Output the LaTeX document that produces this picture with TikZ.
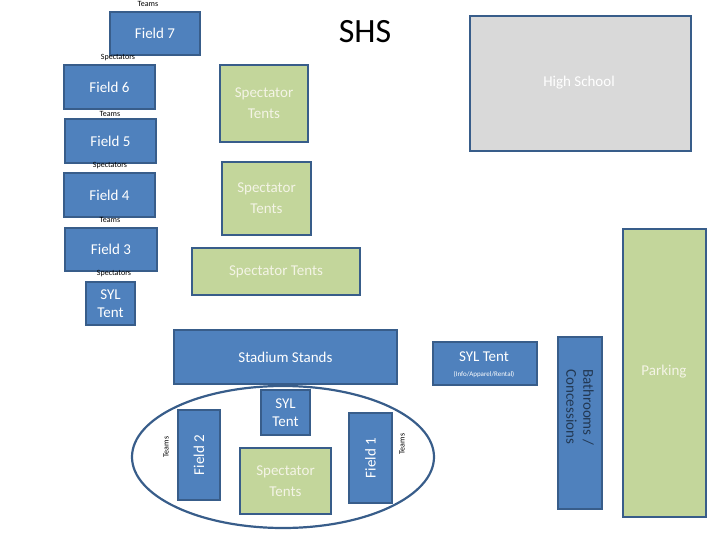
\documentclass[tikz,border=0pt]{standalone}
\usepackage{fontspec}
\setmainfont{Carlito}
\begin{document}
\begin{tikzpicture}[x=1pt,y=-1pt,
  box/.style={draw=bord,line width=2.2pt,inner sep=0pt,align=center},
  blue/.style={box,fill=fblue,text=white,font=\fontsize{15}{18}\selectfont},
  green/.style={box,fill=fgreen,text=tgreen,font=\fontsize{15}{21}\selectfont},
  small/.style={font=\fontsize{8}{9}\selectfont,inner sep=0pt}]
\definecolor{fblue}{HTML}{4F81BD}
\definecolor{bord}{HTML}{385D8A}
\definecolor{fgreen}{HTML}{C3D69B}
\definecolor{tgreen}{HTML}{F4F4E6}
\definecolor{fgray}{HTML}{D9D9D9}
\useasboundingbox (0,0) rectangle (720,540);
\newcommand\bx[6]{\node[#1,minimum width=#4-#2,minimum height=#5-#3] (#6) at ({(#2+#4)/2},{(#3+#5)/2})}
\bx{blue}{110}{12}{200}{55}{f7} {Field 7};
\bx{blue}{64}{65}{155}{109}{f6} {Field 6};
\bx{blue}{65}{119}{156}{163}{f5} {Field 5};
\bx{blue}{64}{173}{155}{217}{f4} {Field 4};
\bx{blue}{65}{228}{157}{271}{f3} {Field 3};
\bx{blue}{86}{282}{135}{325}{syl1} {SYL\\Tent};
\bx{green}{220}{65}{308}{142}{st1} {Spectator\\Tents};
\bx{green}{222}{162}{311}{235}{st2} {Spectator\\Tents};
\bx{green}{192}{248}{360}{295}{st3} {Spectator Tents};
\node[box,fill=fgray,minimum width=221,minimum height=135,text=white,font=\fontsize{15}{18}\selectfont,anchor=north west] (hs) at (469,15) {};
\node[text=white,font=\fontsize{15}{18}\selectfont] (hst) at (579,83) {High School};
\bx{green}{623}{229}{706}{517}{park} {};
\node[text=tgreen,font=\fontsize{15}{18}\selectfont] (pkt) at (664,372) {Parking};
\bx{blue}{558}{337}{602}{509}{bath} {};
\node[rotate=-90,text=bord!60!black,font=\fontsize{15}{17}\selectfont,align=center] (batht) at (580,407) {Bathrooms /\\Concessions};
\bx{blue}{174}{330}{397}{384}{stad} {Stadium Stands};
\bx{blue}{433}{342}{537}{385}{syli} {};
\node[text=white,font=\fontsize{15}{18}\selectfont] (sylit) at (484,357) {SYL Tent};
\node[text=white,font=\fontsize{7}{8}\selectfont] (sylis) at (484,375) {(Info/Apparel/Rental)};
\draw[bord,line width=2.2pt] (283,457) ellipse[x radius=151,y radius=71];
\bx{blue}{178}{410}{220}{500}{f2} {};
\node[rotate=90,text=white,font=\fontsize{15}{18}\selectfont] at (f2) {Field 2};
\bx{blue}{349}{413}{392}{503}{f1} {};
\node[rotate=90,text=white,font=\fontsize{15}{18}\selectfont] at (f1) {Field 1};
\bx{blue}{261}{390}{310}{435}{syl2} {SYL\\Tent};
\bx{green}{240}{448}{331}{514}{st4} {Spectator\\Tents};
\node[small,rotate=90] (t1) at (166,447) {Teams};
\node[small,rotate=90] (t2) at (402,444) {Teams};
\node[font=\fontsize{34}{36}\selectfont] (shs) at (365,32) {SHS};
\node[small] (l1) at (148,4) {Teams};
\node[small] (l2) at (118,58) {Spectators};
\node[small] (l3) at (110,114) {Teams};
\node[small] (l4) at (110,166) {Spectators};
\node[small] (l5) at (110,220) {Teams};
\node[small] (l6) at (114,274) {Spectators};
\end{tikzpicture}
\end{document}
